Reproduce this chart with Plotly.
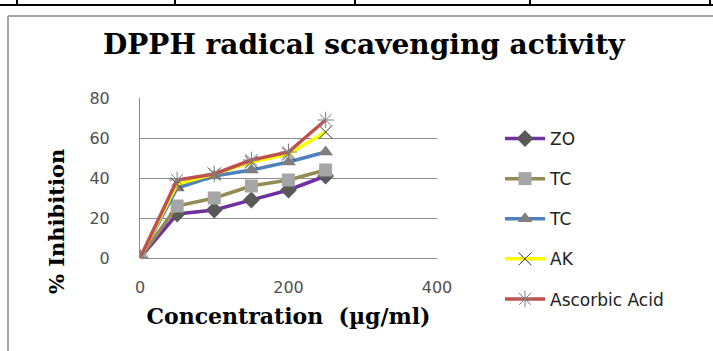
import plotly.graph_objects as go

# ---- data ----
concentration = [0, 50, 100, 150, 200, 250]
zo = [0, 22, 24, 29, 34, 41]
tc1 = [0, 26, 30, 36, 39, 44]
tc2 = [0, 35, 41, 44, 48, 53]
ak = [0, 37, 42, 48, 52, 63]
ascorbic = [0, 39, 42, 49, 53, 69]
series_names = ["ZO", "TC", "TC", "AK", "Ascorbic Acid"]
x_ticks = [0, 200, 400]
y_ticks = [0, 20, 40, 60, 80]

# ---- layout geometry (pixels) ----
W, H = 713, 351
L, R, T, B = 140, 437, 98, 258


def px(xp):
    return (xp - L) / (R - L)


def py(yp):
    return (B - yp) / (B - T)


styles = [
    dict(line=dict(color="#7030A0", width=3.5),
         marker=dict(symbol="diamond", size=13, color="#595959")),
    dict(line=dict(color="#948A54", width=3.5),
         marker=dict(symbol="square", size=13, color="#A6A6A6")),
    dict(line=dict(color="#4F81BD", width=3.5),
         marker=dict(symbol="triangle-up", size=13, color="#7F7F7F")),
    dict(line=dict(color="#FFFF00", width=3.5),
         marker=dict(symbol="x-thin", size=13, color="#333333",
                     line=dict(color="#333333", width=1))),
    dict(line=dict(color="#C0504D", width=3.5),
         marker=dict(symbol="asterisk", size=14, color="#808080",
                     line=dict(color="#808080", width=1))),
]

fig = go.Figure()
for i, (name, vals) in enumerate(zip(series_names, [zo, tc1, tc2, ak, ascorbic])):
    fig.add_trace(go.Scatter(
        x=concentration, y=vals, name=name, mode="lines+markers",
        legendgroup=f"g{i}", **styles[i]))

axis_font = dict(family="DejaVu Sans", size=16, color="#505050")
title_font = dict(family="DejaVu Serif", size=22, color="#000000", weight="bold")

fig.update_layout(
    width=W, height=H,
    margin=dict(l=L, r=W - R, t=T, b=H - B, pad=0),
    paper_bgcolor="white", plot_bgcolor="white",
    showlegend=True,
    legend=dict(x=px(500), y=py(121), xanchor="left", yanchor="top",
                font=dict(family="DejaVu Sans", size=17, color="#222222"),
                tracegroupgap=15, itemwidth=40, bgcolor="rgba(0,0,0,0)",
                maxheight=400),
    xaxis=dict(range=[0, 400], tickvals=x_ticks, ticks="", showgrid=False,
               zeroline=False, showline=False, tickfont=axis_font,
               ticklabelstandoff=18,
               title=dict(text="Concentration  (µg/ml)", font=title_font, standoff=12)),
    yaxis=dict(range=[0, 80], tickvals=y_ticks, ticks="", showgrid=True,
               gridcolor="#8C8C8C", gridwidth=1, zeroline=True,
               zerolinecolor="#8C8C8C", zerolinewidth=1,
               showline=True, linecolor="#8C8C8C", linewidth=1,
               tickfont=axis_font, ticklabelstandoff=26),
    annotations=[
        dict(text="<b>DPPH radical scavenging activity</b>",
             xref="paper", yref="paper", x=px(364), y=py(44),
             xanchor="center", yanchor="middle", showarrow=False,
             font=dict(family="DejaVu Serif", size=28, color="#000000")),
        dict(text="<b>% Inhibition</b>", textangle=-90,
             xref="paper", yref="paper", x=px(56), y=py(222),
             xanchor="center", yanchor="middle", showarrow=False,
             font=dict(family="DejaVu Serif", size=21, color="#000000")),
    ],
)

# decorative frame / table lines around the embedded chart
shapes = [
    dict(type="line", x0=px(0), x1=px(713), y0=py(5), y1=py(5),
         line=dict(color="black", width=2)),
    dict(type="line", x0=px(8), x1=px(713), y0=py(16), y1=py(16),
         line=dict(color="#A6A6A6", width=2)),
    dict(type="line", x0=px(8), x1=px(8), y0=py(16), y1=py(351),
         line=dict(color="#A6A6A6", width=2)),
]
for xv in [17, 175, 355, 530, 710]:
    shapes.append(dict(type="line", x0=px(xv), x1=px(xv), y0=py(0), y1=py(5),
                       line=dict(color="black", width=2)))
for s in shapes:
    s.update(xref="paper", yref="paper", layer="above")
fig.update_layout(shapes=shapes)

fig.write_html("out.html")
